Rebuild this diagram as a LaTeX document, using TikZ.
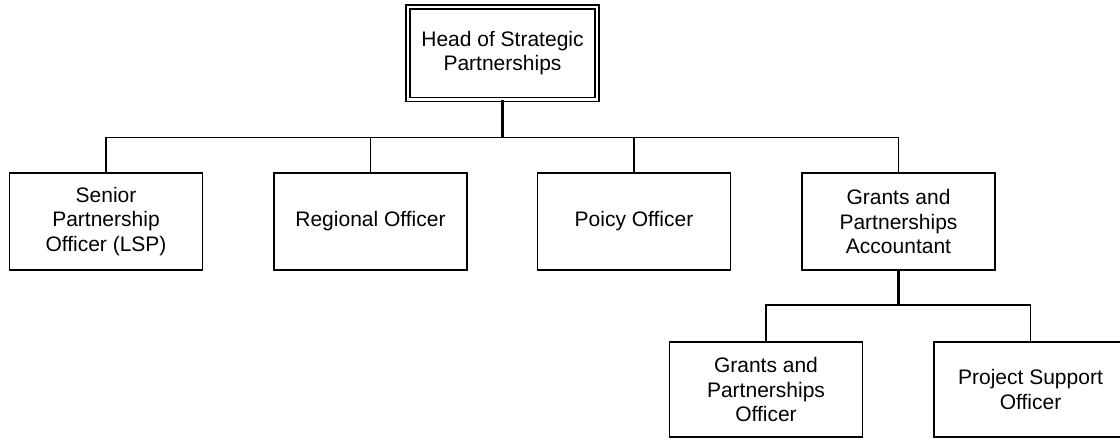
\documentclass[tikz,border=0pt]{standalone}
\usepackage{fontspec}
\setmainfont{Liberation Sans}
\begin{document}
\begin{tikzpicture}[x=1pt,y=-1pt,
  every node/.style={font=\fontsize{21}{24.5}\selectfont, align=center, inner sep=2pt},
  post/.style={draw=black, line width=1.8pt, minimum width=193pt, minimum height=97pt, fill=white},
  headbox/.style={draw=black, line width=1.6pt, double=white, double distance=2.4pt, minimum width=189pt, minimum height=92.5pt},
  link/.style={draw=black, line width=1.8pt},
  stem/.style={draw=black, line width=2.6pt}]
\useasboundingbox (0,0) rectangle (1120,441);
\fill[white] (0,0) rectangle (1120,441);
\node[headbox] (top) at (502.5,53.25) {Head of Strategic\\Partnerships};
\node[post] (b1) at (106,221.5) {Senior\\Partnership\\Officer (LSP)};
\node[post] (b2) at (370.5,221.5) {Regional Officer};
\node[post] (b3) at (634,221.5) {Poicy Officer};
\node[post] (b4) at (898.5,221.5) {Grants and\\Partnerships\\Accountant};
\node[post, minimum height=95pt] (b5) at (766,389.5) {Grants and\\Partnerships\\Officer};
\node[post, minimum height=95pt] (b6) at (1030.5,389.5) {Project Support\\Officer};
\coordinate (bus1) at (0,137.5);
\coordinate (bus2) at (0,305);
\draw[link] (b1.north) -- (b1.north |- bus1) -| (b4.north);
\draw[link] (b2.north) -- (b2.north |- bus1);
\draw[link] (b3.north) -- (b3.north |- bus1);
\draw[stem] (top.south) -- ([yshift=-0.9pt]top.south |- bus1);
\draw[link] (b5.north) -- (b5.north |- bus2) -| (b6.north);
\draw[stem] (b4.south) -- ([yshift=-0.9pt]b4.south |- bus2);
\end{tikzpicture}
\end{document}
